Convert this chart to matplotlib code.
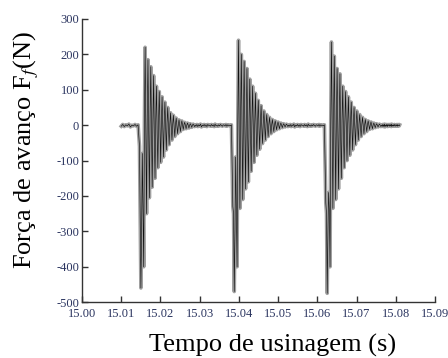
import numpy as np
import matplotlib.pyplot as plt

# peaks (alternating after the onset drop)
burst_start = [15.0143, 15.0381, 15.0618]
half_period = 0.00036
burst1 = [-60, -460, -80, -400, 220, -250, 185, -205, 165, -175, 140, -150, 110, -120,
          95, -105, 80, -90, 65, -70, 50, -55, 35, -42, 28, -32, 20, -24, 15, -18, 12, -12,
          8, -10, 6, -8, 4, -6, 3, -4]
burst2 = [-230, -470, -90, -400, 240, -235, 200, -210, 180, -180, 160, -160, 130, -130,
          110, -105, 90, -85, 70, -68, 55, -52, 40, -42, 30, -32, 22, -24, 16, -18, 12, -13,
          9, -10, 6, -7, 4, -5, 3, -4]
burst3 = [-220, -475, -190, -400, 235, -235, 195, -210, 160, -180, 145, -150, 110, -120,
          95, -100, 80, -85, 65, -70, 50, -55, 40, -42, 30, -32, 22, -24, 16, -18, 12, -12,
          9, -10, 6, -7, 4, -5, 3, -4]
# mid-cycle values seen inside the grey band of each burst
inner = [-250, -300, -240, 10, -20, 30, -10, 20, -15, 10, -30, 15, -20, 10, -10, 5,
         -8, 6, -5, 4, -4, 3, -3, 2, -2, 2, -2, 1, -1, 1, -1, 1, 0, 0, 0, 0, 0, 0, 0, 0]
noise = [-3, 2, -4, 1, -2, 3, -5, 0, -2, 2, -3, 1, -4, 2, -1, 0, -3, 2, -2, 1,
         -4, 3, -2, 0, -3, 1, -2, 2, -1, -3, 1, 0, -2, 2, -3, 1, -1, 0, -2, 1]
t_begin = 15.0100
t_end = 15.0810

bursts = [burst1, burst2, burst3]
t_list, f_list = [], []
tq = np.linspace(t_begin, burst_start[0], 12)
t_list += list(tq)
f_list += noise[:12]
for i, b in enumerate(bursts):
    for k, v in enumerate(b):
        tk = burst_start[i] + half_period * (k + 1)
        t_list.append(tk)
        f_list.append(v)
        t_list.append(tk + half_period / 2)
        f_list.append(inner[k])
    last = burst_start[i] + half_period * (len(b) + 1)
    stop = burst_start[i + 1] if i + 1 < len(bursts) else t_end
    tn = np.linspace(last, stop, len(noise))
    t_list += list(tn)
    f_list += noise

t = np.array(t_list)
f = np.array(f_list)

plt.rcParams['font.family'] = 'Liberation Serif'
plt.rcParams['mathtext.fontset'] = 'stix'

fig = plt.figure(figsize=(4.48, 3.58), dpi=100)
ax = fig.add_axes([0.183, 0.156, 0.788, 0.791])

ax.plot(t, f, color='#a0a0a0', lw=2.6)
ax.plot(t, f, color='#111111', lw=0.45)

ax.set_xlim(15.00, 15.09)
ax.set_ylim(-500, 300)
ax.set_xticks(np.arange(15.00, 15.091, 0.01))
ax.set_xticklabels(['15.00', '15.01', '15.02', '15.03', '15.04', '15.05', '15.06',
                    '15.07', '15.08', '15.09'])
ax.set_yticks(np.arange(-500, 301, 100))
ax.set_yticklabels(['-500', '-400', '-300', '-200', '-100', '0', '100', '200', '300'])

for s in ['top', 'right']:
    ax.spines[s].set_visible(False)
for s in ['left', 'bottom']:
    ax.spines[s].set_color('#333333')
    ax.spines[s].set_linewidth(1.0)
ax.tick_params(direction='in', length=4, width=1, colors='#333333', labelsize=9,
               labelcolor='#2b3560')
ax.tick_params(axis='x', pad=4)
ax.tick_params(axis='y', pad=2)

ax.set_xlabel('Tempo de usinagem (s)', fontsize=19)
ax.set_ylabel('Força de avanço F$_{f}$(N)', fontsize=19)
ax.xaxis.set_label_coords(0.54, -0.152, transform=ax.transAxes)
ax.xaxis.label.set_va('center')
ax.yaxis.set_label_coords(-0.159, 0.537, transform=ax.transAxes)
ax.yaxis.label.set_va('center')

fig.savefig('out.png', dpi=100)
plt.close()
